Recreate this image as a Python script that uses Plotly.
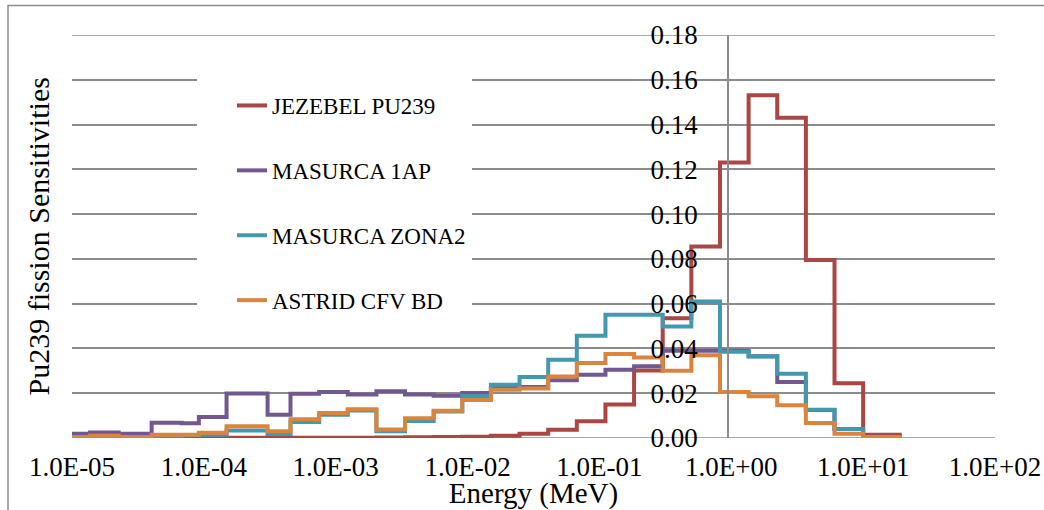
import plotly.graph_objects as go

# ECCO 33-group energy boundaries (MeV), ascending (lowest shown groups first)
bounds = [8.315287e-6, 1.370959e-5, 2.260329e-5, 4.016900e-5, 6.790405e-5, 9.166088e-5,
          1.486254e-4, 3.043248e-4, 4.539993e-4, 7.485183e-4, 1.234098e-3, 2.034684e-3,
          3.354626e-3, 5.530844e-3, 9.118820e-3, 1.503439e-2, 2.478752e-2, 4.086771e-2,
          6.737947e-2, 1.110900e-1, 1.831564e-1, 3.019738e-1, 4.978707e-1, 8.208500e-1,
          1.353353, 2.231302, 3.678794, 6.065307, 10.0, 19.64033]

# group sensitivities, ascending energy (groups 29 ... 1)
jezebel = [0.0, 0.0, 0.0, 0.0, 0.0, 0.0001, 0.0001, 0.0001, 0.0001, 0.0001, 0.0001, 0.0002,
           0.0003, 0.0004, 0.0006, 0.0010, 0.0019, 0.0037, 0.0075, 0.0150, 0.0302, 0.0535,
           0.0855, 0.1230, 0.1531, 0.1430, 0.0795, 0.0245, 0.0015]
masurca_1ap = [0.0019, 0.0025, 0.0019, 0.0068, 0.0066, 0.0094, 0.0199, 0.0104, 0.0198, 0.0205,
               0.0194, 0.0209, 0.0194, 0.0189, 0.0201, 0.0223, 0.0228, 0.0258, 0.0283, 0.0305,
               0.0320, 0.0390, 0.0390, 0.0390, 0.0365, 0.0250, 0.0125, 0.0040, 0.0]
masurca_zona2 = [0.0003, 0.0002, 0.0002, 0.0008, 0.0012, 0.0015, 0.0033, 0.0018, 0.0072, 0.0104,
                 0.0123, 0.0030, 0.0076, 0.0118, 0.0188, 0.0238, 0.0273, 0.0350, 0.0457, 0.0550,
                 0.0550, 0.0498, 0.0610, 0.0385, 0.0364, 0.0287, 0.0126, 0.0040, 0.0002]
astrid = [0.0004, 0.0010, 0.0004, 0.0015, 0.0015, 0.0023, 0.0053, 0.0030, 0.0084, 0.0112,
          0.0128, 0.0038, 0.0088, 0.0122, 0.0170, 0.0215, 0.0221, 0.0275, 0.0335, 0.0375,
          0.0360, 0.0300, 0.0370, 0.0205, 0.0186, 0.0146, 0.0067, 0.0019, 0.0004]

series_names = ["JEZEBEL PU239", "MASURCA 1AP", "MASURCA ZONA2", "ASTRID CFV BD"]
series_vals = [jezebel, masurca_1ap, masurca_zona2, astrid]
colors = ["#AA4643", "#71588F", "#4198AF", "#DB843D"]

xtick_vals = [1e-5, 1e-4, 1e-3, 1e-2, 1e-1, 1e0, 1e1, 1e2]
xtick_text = ["1.0E-05", "1.0E-04", "1.0E-03", "1.0E-02", "1.0E-01", "1.0E+00", "1.0E+01", "1.0E+02"]
y_min, y_max = 0.0, 0.18

FONT = "Liberation Serif"
GRID = "#8c8c8c"

fig = go.Figure()
for name, vals, col in zip(series_names, series_vals, colors):
    fig.add_trace(go.Scatter(
        x=bounds, y=list(vals) + [vals[-1]], mode="lines", name=name,
        line=dict(color=col, width=4, shape="hv"), legendgroup=name,
    ))

L, R, T, B = 72, 49, 35, 72
W, H = 1044, 510
pw, ph = W - L - R, H - T - B

def px_x(p):
    return (p - L) / pw

def px_y(p):
    return (H - B - p) / ph

edge_grid = [dict(type="line", xref="paper", yref="y", x0=0, x1=1, y0=v, y1=v,
                  line=dict(color=GRID, width=1.5), layer="below") for v in (y_min, y_max)]

fig.update_layout(
    template="none",
    width=W, height=H,
    margin=dict(l=L, r=R, t=T, b=B),
    paper_bgcolor="white", plot_bgcolor="white",
    font=dict(family=FONT, color="black"),
    showlegend=True,
    legend=dict(
        x=px_x(232), y=px_y(84), xanchor="left", yanchor="top",
        bgcolor="rgba(0,0,0,0)", borderwidth=0,
        font=dict(family=FONT, size=23, color="black"),
        tracegroupgap=32,
    ),
    xaxis=dict(
        type="log", range=[-5, 2.0], tickmode="array",
        tickvals=xtick_vals, ticktext=xtick_text,
        showgrid=False, showline=False, zeroline=False, ticks="",
        tickfont=dict(family=FONT, size=27), ticklabelstandoff=10,
        title=dict(text="Energy (MeV)", font=dict(family=FONT, size=29), standoff=3),
        automargin=False,
    ),
    yaxis=dict(
        range=[y_min, y_max], dtick=0.02, tick0=0, tickformat=".2f",
        anchor="free", position=px_x(728), side="left",
        showgrid=True, gridcolor=GRID, gridwidth=1.5,
        showline=True, linecolor=GRID, linewidth=1.5,
        zeroline=False, ticks="",
        tickfont=dict(family=FONT, size=27), ticklabelstandoff=24,
        automargin=False,
    ),
    annotations=[dict(
        text="Pu239 fission Sensitivities", textangle=-90,
        xref="paper", yref="paper", x=px_x(38), y=0.5,
        xanchor="center", yanchor="middle", showarrow=False,
        font=dict(family=FONT, size=30, color="black"),
    )],
    shapes=edge_grid + [
        dict(type="rect", xref="paper", yref="paper",
             x0=px_x(197), x1=px_x(472), y0=px_y(325), y1=px_y(45),
             fillcolor="white", line=dict(width=0), layer="above"),
        dict(type="rect", xref="paper", yref="paper",
             x0=px_x(8), x1=px_x(1060), y0=px_y(530), y1=px_y(5.5),
             fillcolor="rgba(0,0,0,0)", line=dict(color=GRID, width=1.5)),
    ],
)

fig.write_html("out.html", config={"displayModeBar": False},
               post_script="document.body.style.margin='0';document.body.style.overflow='hidden';")
